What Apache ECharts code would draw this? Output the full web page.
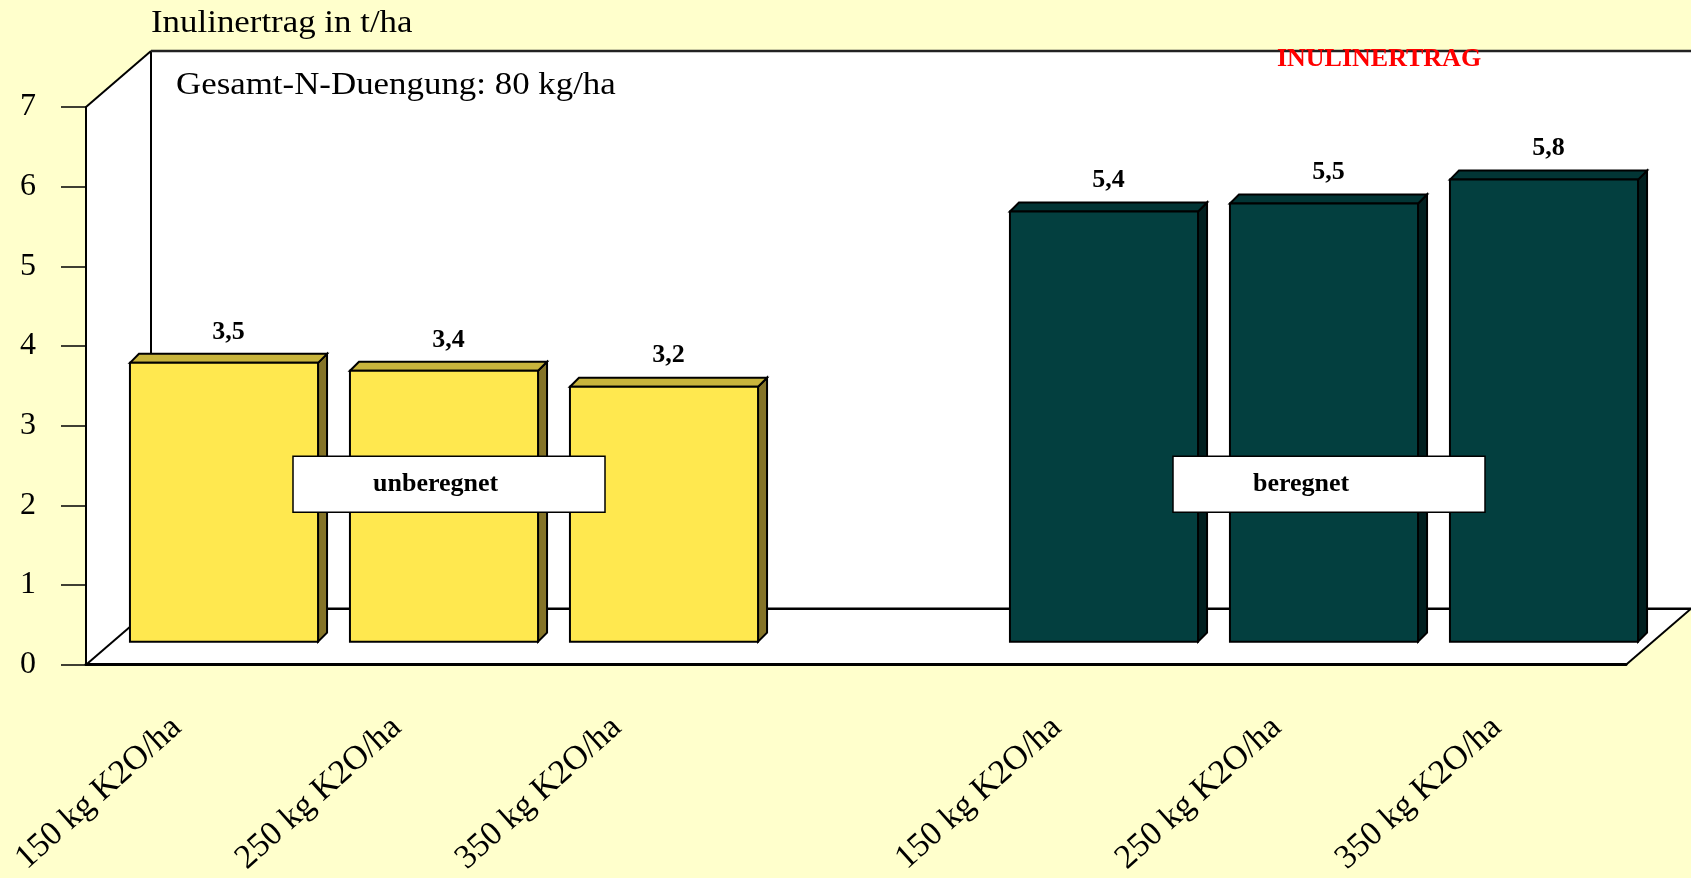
<!DOCTYPE html>
<html>
<head>
<meta charset="utf-8">
<title>Inulinertrag</title>
<script src="https://cdn.jsdelivr.net/npm/echarts@6/dist/echarts.min.js"></script>
<style>
  html, body { margin: 0; padding: 0; background: #FFFFCC; }
  #chart { width: 1691px; height: 878px; }
</style>
</head>
<body>
<div id="chart"></div>
<script>
// Categories along the x axis (the 4th slot is an empty gap between the groups)
const categories = ['150 kg K2O/ha', '250 kg K2O/ha', '350 kg K2O/ha', '', '150 kg K2O/ha', '250 kg K2O/ha', '350 kg K2O/ha'];
// Inulin yield in t/ha
const unberegnet = [3.5, 3.4, 3.2, null, null, null, null];
const beregnet = [null, null, null, null, 5.4, 5.5, 5.8];
// Group captions: [category index, y value, text]
const groupCaptions = [[1, 2, 'unberegnet'], [5, 2, 'beregnet']];
const yTicks = [0, 1, 2, 3, 4, 5, 6, 7];

const FONT = "'Times New Roman', 'Liberation Serif', serif";
const DX = 65, DY = 56;          // depth of the 3D box (floor / side wall)
const SX = 28, SY = 23;          // bars stand at this depth inside the box
const BD = 9;                    // depth of each bar's own top/side face

function pairs(arr) {
  const out = [];
  arr.forEach((v, i) => { if (v != null) out.push([i, v]); });
  return out;
}

function barRenderer(front, top, side) {
  return function (params, api) {
    const idx = api.value(0), val = api.value(1);
    const base = api.coord([idx, 0]);
    const peak = api.coord([idx, val]);
    const band = api.size([1, 0])[0];
    const w = band * 0.855;
    const l = base[0] + SX - w / 2, r = l + w;
    const by = base[1] - SY, ty = peak[1] - SY;
    const stroke = { stroke: '#000', lineWidth: 2, lineJoin: 'miter' };
    return {
      type: 'group',
      children: [
        { type: 'polygon', shape: { points: [[r, ty], [r + BD, ty - BD], [r + BD, by - BD], [r, by]] },
          style: Object.assign({ fill: side }, stroke) },
        { type: 'polygon', shape: { points: [[l, ty], [l + BD, ty - BD], [r + BD, ty - BD], [r, ty]] },
          style: Object.assign({ fill: top }, stroke) },
        { type: 'rect', shape: { x: l, y: ty, width: w, height: by - ty },
          style: Object.assign({ fill: front }, stroke) },
        { type: 'text',
          style: { x: (l + r) / 2 + BD / 2, y: ty - BD - 22, text: val.toFixed(1).replace('.', ','),
                   font: 'bold 26px ' + FONT, fill: '#000',
                   align: 'center', verticalAlign: 'middle', textAlign: 'center', textVerticalAlign: 'middle' } }
      ]
    };
  };
}

function wallRenderer(params, api) {
  const cs = params.coordSys;
  const x = cs.x, y = cs.y, w = cs.width, h = cs.height;
  const b = y + h;
  const line = (x1, y1, x2, y2, lw, c) => ({
    type: 'line', shape: { x1, y1, x2, y2 }, style: { stroke: c || '#000', lineWidth: lw || 2 }
  });
  return {
    type: 'group',
    children: [
      { type: 'polygon', shape: { points: [[x, y], [x + DX, y - DY], [x + DX, b - DY], [x, b]] },
        style: { fill: '#fff' } },
      { type: 'rect', shape: { x: x + DX, y: y - DY, width: w, height: h },
        style: { fill: '#fff' } },
      { type: 'polygon', shape: { points: [[x, b], [x + w, b], [x + w + DX, b - DY], [x + DX, b - DY]] },
        style: { fill: '#fff' } },
      line(x, y, x + DX, y - DY, 2),
      line(x + DX, y - DY, x + DX, b - DY, 2),
      line(x + DX, y - DY, x + w + DX, y - DY, 2.5, '#222'),
      line(x + DX, b - DY, x + w + DX, b - DY, 2.5),
      line(x, b, x + DX, b - DY, 2),
      line(x + w, b, x + w + DX, b - DY, 2)
    ]
  };
}

function captionRenderer(params, api) {
  const p = api.coord([api.value(0), api.value(1)]);
  const bw = 312, bh = 56;
  const cx = p[0] + SX + 5, cy = p[1] - SY + 2;
  const text = groupCaptions[params.dataIndex][2];
  return {
    type: 'group',
    children: [
      { type: 'rect', shape: { x: cx - bw / 2, y: cy - bh / 2, width: bw, height: bh },
        style: { fill: '#fff', stroke: '#000', lineWidth: 1.5 } },
      { type: 'text',
        style: { x: cx - bw / 2 + 80, y: cy, text: text, font: 'bold 26px ' + FONT, fill: '#000',
                 align: 'left', verticalAlign: 'middle', textAlign: 'left', textVerticalAlign: 'middle' } }
    ]
  };
}

const chart = echarts.init(document.getElementById('chart'), null, { renderer: 'canvas' });
chart.setOption({
  backgroundColor: '#FFFFCC',
  animation: false,
  textStyle: { fontFamily: FONT },
  grid: { left: 86, right: 65, top: 107, bottom: 211, containLabel: false },
  xAxis: {
    type: 'category',
    data: categories,
    z: 10,
    axisLine: { lineStyle: { color: '#000', width: 3 } },
    axisTick: { alignWithLabel: true, length: 21, lineStyle: { color: '#555', width: 1 } },
    axisLabel: { interval: 0, rotate: 42, margin: 41, padding: [0, 26, 0, 0],
                 fontSize: 34, color: '#000', fontFamily: FONT }
  },
  yAxis: {
    type: 'value',
    min: yTicks[0], max: yTicks[yTicks.length - 1], interval: 1,
    z: 10,
    splitLine: { show: false },
    axisLine: { show: true, lineStyle: { color: '#000', width: 2 } },
    axisTick: { show: true, length: 25, lineStyle: { color: '#000', width: 1.5 } },
    axisLabel: { margin: 50, fontSize: 32, color: '#000', fontFamily: FONT }
  },
  graphic: [
    { type: 'text', x: 151, y: 24, z: 20, scaleX: 1.09,
      style: { text: 'Inulinertrag in t/ha', font: '32px ' + FONT, fill: '#000', align: 'left', verticalAlign: 'middle' } },
    { type: 'text', x: 176, y: 86, z: 20, scaleX: 1.09,
      style: { text: 'Gesamt-N-Duengung: 80 kg/ha', font: '32px ' + FONT, fill: '#000', align: 'left', verticalAlign: 'middle' } },
    { type: 'text', x: 1379, y: 59, z: 20,
      style: { text: 'INULINERTRAG', font: 'bold 26px ' + FONT, fill: '#FF0000', align: 'center', verticalAlign: 'middle' } }
  ],
  series: [
    { type: 'custom', name: 'box', z: 1, silent: true, data: [[0, 0]], renderItem: wallRenderer },
    { type: 'custom', name: 'unberegnet', z: 3, data: pairs(unberegnet),
      renderItem: barRenderer('#FFE84F', '#C8B43C', '#857428') },
    { type: 'custom', name: 'beregnet', z: 3, data: pairs(beregnet),
      renderItem: barRenderer('#033F3F', '#023535', '#012020') },
    { type: 'custom', name: 'captions', z: 5, data: groupCaptions.map(c => [c[0], c[1]]),
      renderItem: captionRenderer }
  ]
});
</script>
</body>
</html>
